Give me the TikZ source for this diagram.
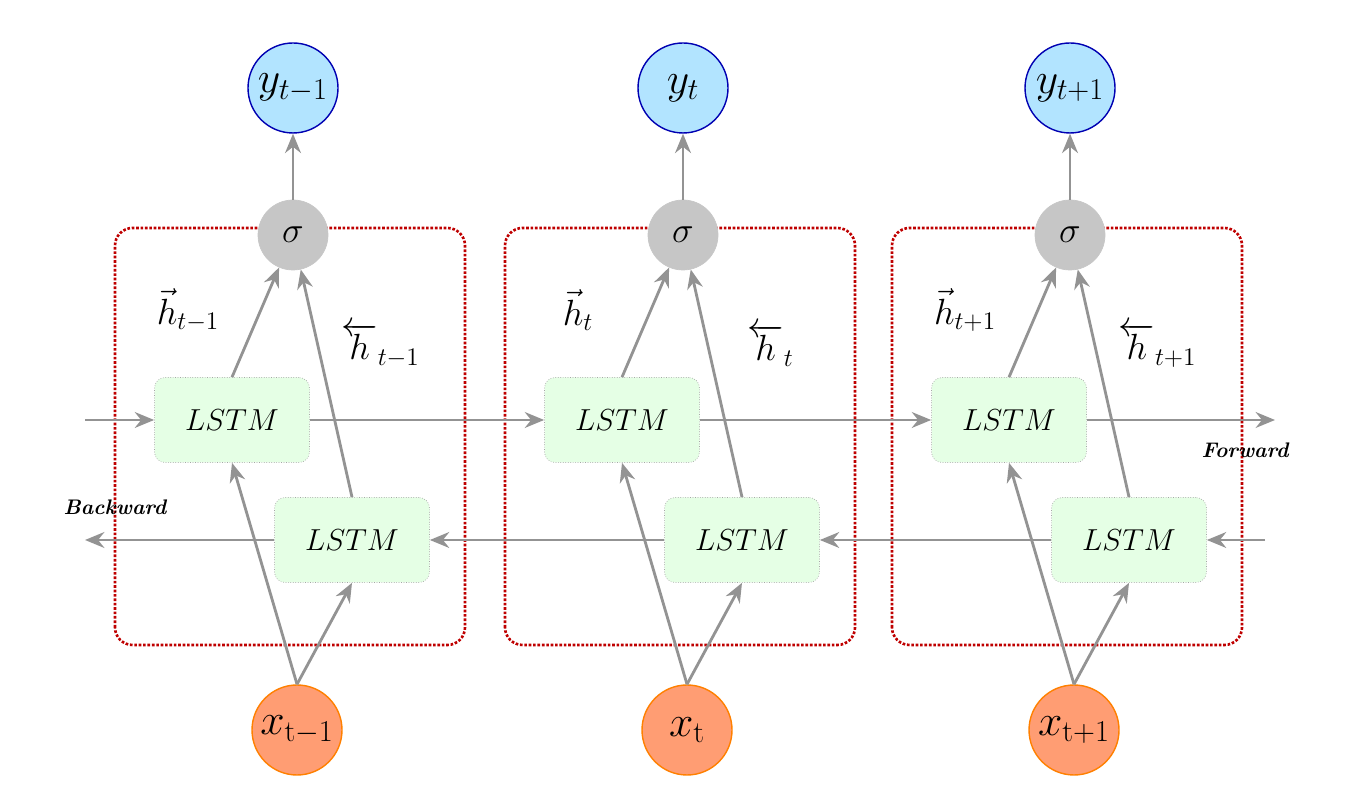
\documentclass[tikz,border=0pt]{standalone}
\usetikzlibrary{arrows.meta,positioning}
\tikzset{lstm/.style={
            draw=gray!70,
            densely dotted,
            fill=green!10,
            rounded corners=6pt,
            minimum width=3.1cm,
            minimum height=1.7cm,
            font=\fontsize{19}{22}\selectfont
        },
        sig/.style={
            circle,
            draw=gray!45,
            fill=gray!45,
            minimum size=1.4cm,
            inner sep=0pt,
            font=\fontsize{22}{24}\selectfont
        },
        outnode/.style={
            circle,
            draw=blue!70!black,
            thick,
            fill=blue!35!cyan!30,
            minimum size=1.8cm,
            inner sep=0pt,
            font=\fontsize{26}{28}\selectfont
        },
        innode/.style={
            circle,
            draw=orange,
            thick,
            fill=orange!60!red!55,
            minimum size=1.8cm,
            inner sep=0pt,
            font=\fontsize{26}{28}\selectfont
        },
        cell/.style={
            draw=red!75!black,
            densely dotted,
            line width=1.5pt,
            rounded corners=10pt
        },
        flow/.style={
            -{Stealth[length=11pt,width=9pt]},
            gray!85,
            line width=1.6pt
        },
        hlabel/.style={
            font=\fontsize{21}{24}\selectfont
        }
    }
\begin{document}
\begin{tikzpicture}
\useasboundingbox (0,0) rectangle (27,16);
% one column per time step
\foreach \i/\sx/\lab in {1/5.86/t-1, 2/13.66/t, 3/21.4/t+1}{
  \draw[cell] (\sx-3.56,3.1) rectangle (\sx+3.44,11.44);
  \node[sig] (s\i) at (\sx,11.3) {$\sigma$};
  \node[outnode] (y\i) at (\sx,14.24) {$y_{\lab}$};
  \node[innode] (x\i) at (\sx+0.08,1.4) {$x_{\mathrm{\lab}}$};
  \node[lstm] (f\i) at (\sx-1.22,7.6) {$LSTM$};
  \node[lstm] (b\i) at (\sx+1.18,5.2) {$LSTM$};
  \draw[flow] (s\i) -- (y\i);
  \draw[flow] (f\i.north) -- (s\i);
  \draw[flow] (b\i.north) -- (s\i);
  \draw[flow] (x\i.north) -- (f\i.south);
  \draw[flow] (x\i.north) -- (b\i.south);
  \node[hlabel] at (\sx-2.1,9.8) {$\vec{h}_{\lab}$};
  \node[hlabel] at (\sx+1.75,9.1) {$\overleftarrow{h}_{\lab}$};
}
% recurrent links
\coordinate (fin) at (1.7,7.6);
\coordinate (fout) at (25.5,7.6);
\coordinate (bin) at (25.3,5.2);
\coordinate (bout) at (1.7,5.2);
\draw[flow] (fin) -- (f1);
\draw[flow] (f1) -- (f2);
\draw[flow] (f2) -- (f3);
\draw[flow] (f3) -- (fout);
\draw[flow] (bin) -- (b3);
\draw[flow] (b3) -- (b2);
\draw[flow] (b2) -- (b1);
\draw[flow] (b1) -- (bout);
\node[font=\large\bfseries\itshape] (fw) at (24.9,7.0) {Forward};
\node[font=\large\bfseries\itshape] (bw) at (2.3,5.85) {Backward};
\end{tikzpicture}
\end{document}
